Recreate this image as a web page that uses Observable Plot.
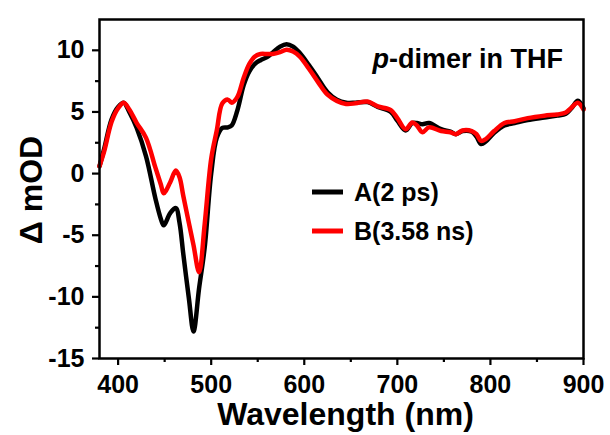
<!DOCTYPE html>
<html><head><meta charset="utf-8">
<script src="https://cdn.jsdelivr.net/npm/d3@7"></script>
<script src="https://cdn.jsdelivr.net/npm/@observablehq/plot@0.6"></script>
<style>body{margin:0;background:#fff}</style>
</head><body><div id="chart"></div>
<script>
const wavelength = [380,385,393,400,406,412,420,430,440,446,449,456,462,466,470,476,481,487,493,500,506,512,518,522,528,535,541,547,553,560,566,574,581,588,595,605,615,625,635,645,655,668,679,693,700,709,716,721,727,734,747,757,763,770,780,785,790,795,804,815,826,840,858,872,881,887,894,900];
const seriesA = [0.6,2.0,4.4,5.4,5.75,5.0,3.7,1.4,-2.0,-3.7,-4.2,-3.2,-2.8,-4.0,-6.5,-10.1,-12.8,-9.3,-6.0,0.0,2.9,3.7,3.75,3.9,5.1,7.2,8.3,8.9,9.2,9.45,9.8,10.3,10.5,10.3,9.8,8.8,7.7,6.6,6.0,5.75,5.75,5.8,5.4,5.0,4.3,3.5,4.1,4.1,4.0,4.1,3.6,3.4,3.2,3.45,3.4,3.0,2.4,2.6,3.3,3.9,4.1,4.35,4.55,4.7,4.85,5.3,5.9,5.3];
const seriesB = [0.6,1.8,4.2,5.3,5.75,5.2,4.1,2.9,0.5,-0.9,-1.6,-0.7,0.25,-0.3,-1.8,-4.0,-5.8,-8.0,-4.1,1.2,3.5,5.7,6.0,5.75,6.2,7.8,8.9,9.5,9.7,9.7,9.7,9.85,10.05,9.9,9.5,8.5,7.4,6.4,5.9,5.65,5.7,5.85,5.45,5.15,4.5,3.6,4.15,3.9,3.35,3.75,3.45,3.35,3.2,3.5,3.45,3.2,2.65,2.8,3.45,4.1,4.25,4.5,4.7,4.8,4.95,5.35,5.75,5.2];
const seriesNames = ["A(2 ps)", "B(3.58 ns)"];
const seriesColors = ["#000000", "#ff0000"];
const xTicks = [400,500,600,700,800,900];
const xMinorTicks = [450,550,650,750,850];
const yTicks = [-15,-10,-5,0,5,10];
const yMinorTicks = [-12.5,-7.5,-2.5,2.5,7.5];
const xLabel = "Wavelength (nm)";
const yLabel = "Δ mOD";
const note = ["p", "-dimer in THF"];

const dataA = wavelength.map((w,i)=>({w, v: seriesA[i]}));
const dataB = wavelength.map((w,i)=>({w, v: seriesB[i]}));
const FONT = "'Liberation Sans', Arial, Helvetica, sans-serif";

const plot = Plot.plot({
  width: 610, height: 435,
  marginTop: 19, marginRight: 27, marginBottom: 77, marginLeft: 99,
  style: {fontFamily: FONT, fontWeight: "bold", fontSize: "25px", color: "#000", background: "#fff"},
  x: {domain: [380, 900], label: null},
  y: {domain: [-15, 12.5], label: null},
  marks: [
    Plot.line(dataA, {x: "w", y: "v", stroke: seriesColors[0], strokeWidth: 4.5, curve: "catmull-rom"}),
    Plot.line(dataB, {x: "w", y: "v", stroke: seriesColors[1], strokeWidth: 4.5, curve: "catmull-rom"}),
    Plot.frame({stroke: "#000", strokeWidth: 2.5}),
    Plot.axisX({ticks: xTicks, tickSize: 7, tickPadding: 10, tickFormat: d => String(d), strokeWidth: 2.2, fontSize: 25, label: null}),
    Plot.axisX({ticks: xMinorTicks, tickSize: 4, tickFormat: () => "", strokeWidth: 2.2, label: null}),
    Plot.axisY({ticks: yTicks, tickSize: 7, tickPadding: 8, tickFormat: d => String(d), strokeWidth: 2.2, fontSize: 25, label: null}),
    Plot.axisY({ticks: yMinorTicks, tickSize: 4, tickFormat: () => "", strokeWidth: 2.2, label: null}),
    Plot.text([xLabel], {frameAnchor: "bottom", dx: 4, dy: 56, text: d => d, fontSize: 32, fontWeight: "bold", lineAnchor: "middle"})
  ]
});
document.getElementById("chart").appendChild(plot);

const svg = d3.select(plot);
// y-axis title
svg.append("text").attr("transform", "translate(31,190) rotate(-90)").attr("text-anchor", "middle")
  .attr("dy", "0.35em").attr("font-family", FONT).attr("font-weight", "bold").attr("font-size", 32)
  .attr("fill", "#000").text(yLabel);
// annotation
const t = svg.append("text").attr("x", 563).attr("y", 68).attr("text-anchor", "end")
  .attr("font-family", FONT).attr("font-weight", "bold").attr("font-size", 27).attr("fill", "#000");
t.append("tspan").attr("font-style", "italic").text(note[0]);
t.append("tspan").text(note[1]);
// legend
const lg = svg.append("g").attr("font-family", FONT).attr("font-weight", "bold").attr("font-size", 25).attr("text-anchor", "start");
seriesNames.forEach((name, i) => {
  const y = 192 + i * 39;
  lg.append("line").attr("x1", 312).attr("x2", 343).attr("y1", y).attr("y2", y)
    .attr("stroke", seriesColors[i]).attr("stroke-width", 5);
  lg.append("text").attr("x", 354).attr("y", y).attr("dy", "0.35em").attr("fill", "#000").text(name);
});
</script></body></html>
